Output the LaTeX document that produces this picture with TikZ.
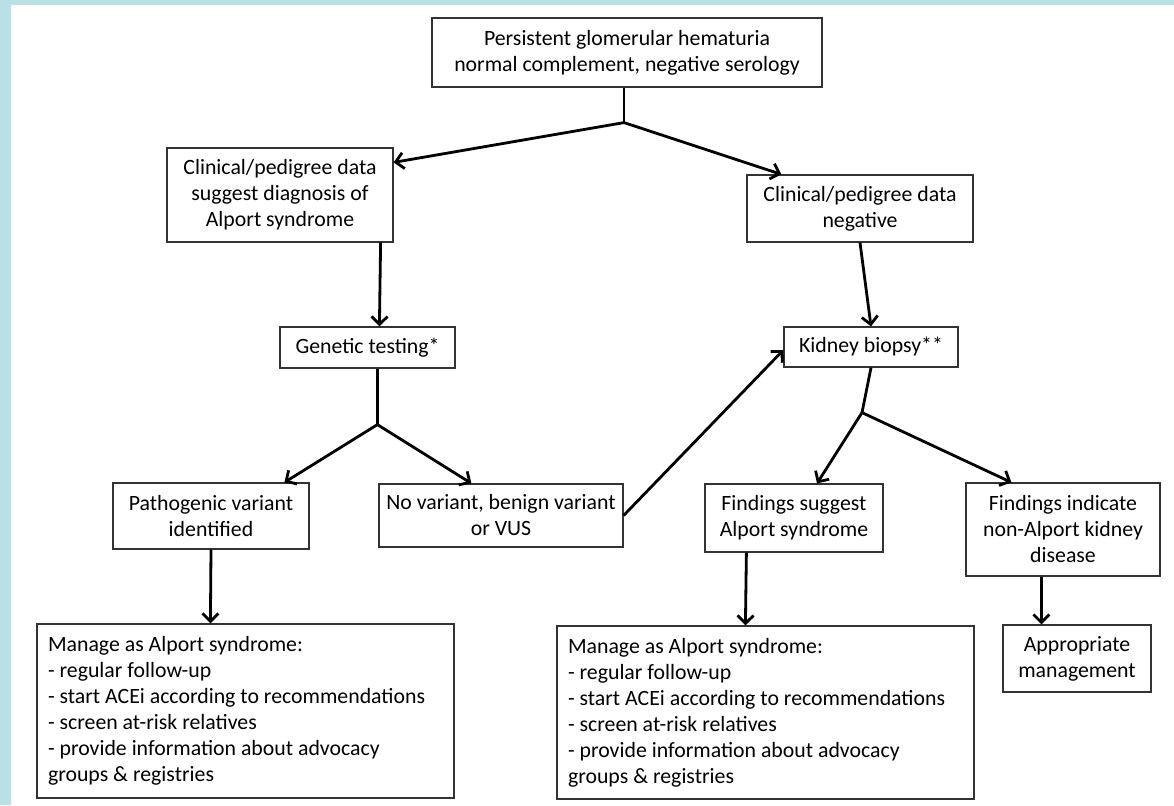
\documentclass[tikz,border=0pt]{standalone}
\usepackage{fontspec}
\setmainfont{Carlito}
\usetikzlibrary{arrows.meta,positioning,calc}

\definecolor{framecol}{HTML}{B9E0E4}

\begin{document}
\begin{tikzpicture}[x=1pt, y=-1pt,
    box/.style={draw=black!80, line width=1.2pt, fill=white, align=center, inner sep=0pt, font=\fontsize{21.8}{26}\selectfont},
    listbox/.style={box, align=flush left, inner xsep=11pt, text width=395pt},
    arrow/.style={-{Straight Barb[length=8pt,width=16pt]}, line width=2.8pt},
    link/.style={line width=2.8pt}
]
    % frame
    \fill[framecol] (0,0) rectangle (1174,805);
    \fill[white] (11,5) rectangle (1174,805);

    \node[box, minimum width=390, minimum height=69] (top) at (627,52.5) {Persistent glomerular hematuria\\normal complement, negative serology};
    \node[box, minimum width=226, minimum height=94] (cl) at (280,195) {Clinical/pedigree data\\suggest diagnosis of\\Alport syndrome};
    \node[box, minimum width=226, minimum height=67] (cn) at (860,208.5) {Clinical/pedigree data\\negative};
    \node[box, minimum width=175, minimum height=41] (gt) at (367.5,347.5) {Genetic testing*};
    \node[box, minimum width=174, minimum height=40] (kb) at (871,347) {Kidney biopsy**};
    \node[box, minimum width=196, minimum height=66] (pv) at (211,516) {Pathogenic variant\\identified};
    \node[box, minimum width=244, minimum height=63] (nv) at (501,515.5) {No variant, benign variant\\or VUS};
    \node[box, minimum width=178, minimum height=68] (fs) at (794,518) {Findings suggest\\Alport syndrome};
    \node[box, minimum width=194, minimum height=93] (fi) at (1063,529.5) {Findings indicate\\non-Alport kidney\\disease};
    \node[box, minimum width=148, minimum height=67] (am) at (1077,658.5) {Appropriate\\management};
    \node[listbox, minimum height=174] (ml) at (245.5,711) {Manage as Alport syndrome:\\- regular follow-up\\- start ACEi according to recommendations\\- screen at-risk relatives\\- provide information about advocacy\\groups \& registries};
    \node[listbox, minimum height=173] (mr) at (765.5,712.5) {Manage as Alport syndrome:\\- regular follow-up\\- start ACEi according to recommendations\\- screen at-risk relatives\\- provide information about advocacy\\groups \& registries};

    % branch points
    \coordinate (j1) at ($(top.south)+(-3,35)$);
    \coordinate (j2) at ($(gt.south west)+(98,56)$);
    \coordinate (j3) at ($(kb.south)+(-9,45)$);

    \draw[link] ($(top.south)+(-3,0)$) -- (j1);
    \draw[arrow] (j1) -- ($(cl.north east)+(0,15)$);
    \draw[arrow] (j1) -- ($(cn.north west)+(35,0)$);

    \draw[arrow] ($(cl.south east)+(-13,0)$) -- ($(gt.north west)+(100,0)$);
    \draw[link] ($(gt.south west)+(98,0)$) -- (j2);
    \draw[arrow] (j2) -- ($(pv.north west)+(172,0)$);
    \draw[arrow] (j2) -- ($(nv.north west)+(93,0)$);
    \draw[arrow] (nv.east) -- ($(kb.west)+(0,3)$);

    \draw[arrow] (cn.south) -- (kb.north);
    \draw[link] (kb.south) -- (j3);
    \draw[arrow] (j3) -- ($(fs.north)+(23,0)$);
    \draw[arrow] (j3) -- ($(fi.north west)+(46,0)$);

    \draw[arrow] (pv.south) -- ($(ml.north west)+(174,0)$);
    \draw[arrow] ($(fs.south west)+(42,0)$) -- ($(mr.north west)+(189,0)$);
    \draw[arrow] ($(fi.south west)+(76,0)$) -- ($(am.north west)+(39,0)$);
\end{tikzpicture}
\end{document}
